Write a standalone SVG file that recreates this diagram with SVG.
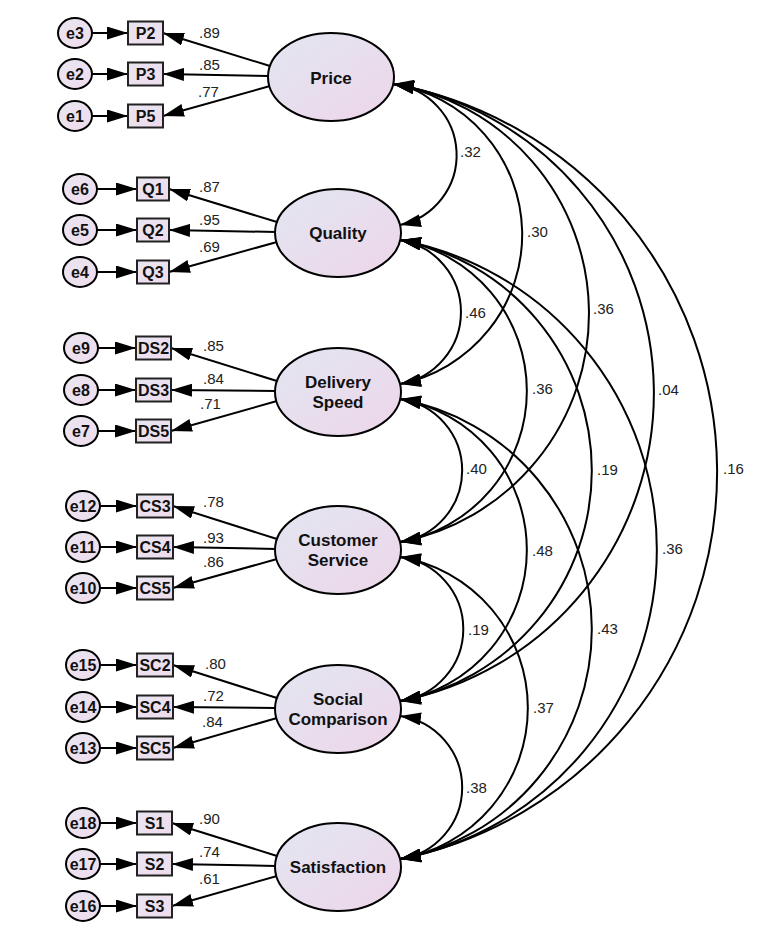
<svg xmlns="http://www.w3.org/2000/svg" width="769" height="947" viewBox="0 0 769 947">
<defs>
<linearGradient id="gl" x1="0" y1="0" x2="1" y2="1"><stop offset="0" stop-color="#e3e6f2"/><stop offset="1" stop-color="#edd6e9"/></linearGradient>
<linearGradient id="gb" x1="0" y1="0" x2="1" y2="1"><stop offset="0" stop-color="#e9e5f1"/><stop offset="1" stop-color="#efdcec"/></linearGradient>
<marker id="ah" markerUnits="userSpaceOnUse" markerWidth="21" markerHeight="13" viewBox="0 0 21 13" refX="21" refY="6.5" orient="auto-start-reverse"><path d="M0,0 L21,6.5 L0,13 Z" fill="#000"/></marker>
</defs>
<style>
.lat{fill:url(#gl);stroke:#000;stroke-width:2}
.err{fill:url(#gb);stroke:#000;stroke-width:2}
.obs{fill:url(#gb);stroke:#222;stroke-width:2}
.ln{fill:none;stroke:#000;stroke-width:2;marker-end:url(#ah)}
.cov{fill:none;stroke:#000;stroke-width:2;marker-start:url(#ah);marker-end:url(#ah)}
.lt{font-family:"Liberation Sans",Arial,sans-serif;font-weight:bold;font-size:17px;fill:#111;text-anchor:middle}
.bt{font-family:"Liberation Sans",Arial,sans-serif;font-weight:bold;font-size:16px;fill:#111;text-anchor:middle}
.et{font-family:"Liberation Sans",Arial,sans-serif;font-weight:bold;font-size:16px;fill:#111;text-anchor:middle}
.nt{font-family:"Liberation Sans",Arial,sans-serif;font-size:15px;fill:#222}
</style>
<rect width="769" height="947" fill="#fff"/>

<g id="connectors">
<path class="ln" d="M92,33 H128"/><path class="ln" d="M92,74 H128"/><path class="ln" d="M92,116 H128"/>
<path class="ln" d="M97,189 H137"/><path class="ln" d="M97,230 H137"/><path class="ln" d="M97,272 H137"/>
<path class="ln" d="M98,348 H136"/><path class="ln" d="M98,390 H136"/><path class="ln" d="M98,431 H136"/>
<path class="ln" d="M100,506 H137"/><path class="ln" d="M100,547 H137"/><path class="ln" d="M100,588 H137"/>
<path class="ln" d="M100,665 H137"/><path class="ln" d="M100,707 H137"/><path class="ln" d="M100,748 H137"/>
<path class="ln" d="M100,823 H137"/><path class="ln" d="M100,864 H137"/><path class="ln" d="M100,906 H137"/>
<path class="ln" d="M270,66 L163,33"/><path class="ln" d="M269,76 L163,74"/><path class="ln" d="M270,86 L163,116"/>
<path class="ln" d="M277,222 L169,189"/><path class="ln" d="M276,232 L169,230"/><path class="ln" d="M277,242 L169,272"/>
<path class="ln" d="M277,381 L171,348"/><path class="ln" d="M276,391 L171,390"/><path class="ln" d="M277,401 L171,431"/>
<path class="ln" d="M277,539 L173,506"/><path class="ln" d="M276,549 L173,547"/><path class="ln" d="M277,559 L173,588"/>
<path class="ln" d="M277,698 L173,665"/><path class="ln" d="M276,708 L173,707"/><path class="ln" d="M277,718 L173,748"/>
<path class="ln" d="M277,856 L172,823"/><path class="ln" d="M276,866 L172,864"/><path class="ln" d="M277,876 L172,906"/>
<text class="nt" x="199" y="38">.89</text><text class="nt" x="199" y="70">.85</text><text class="nt" x="198" y="97">.77</text>
<text class="nt" x="199" y="192">.87</text><text class="nt" x="199" y="225">.95</text><text class="nt" x="199" y="252">.69</text>
<text class="nt" x="203" y="351">.85</text><text class="nt" x="203" y="384">.84</text><text class="nt" x="200" y="409">.71</text>
<text class="nt" x="203" y="507">.78</text><text class="nt" x="203" y="543">.93</text><text class="nt" x="203" y="567">.86</text>
<text class="nt" x="205" y="669">.80</text><text class="nt" x="203" y="701">.72</text><text class="nt" x="202" y="727">.84</text>
<text class="nt" x="199" y="824">.90</text><text class="nt" x="199" y="857">.74</text><text class="nt" x="199" y="884">.61</text>
<path class="cov" d="M393,84 A71.5,71.5 0 0 1 400,225"/>
<path class="cov" d="M393,84 A152.4,152.4 0 0 1 400,384"/>
<path class="cov" d="M393,84 A232.5,232.5 0 0 1 400,542"/>
<path class="cov" d="M393,84 A313.6,313.6 0 0 1 400,701"/>
<path class="cov" d="M393,84 A394.5,394.5 0 0 1 400,859"/>
<path class="cov" d="M400,240 A73,73 0 0 1 400,384"/>
<path class="cov" d="M400,240 A153.3,153.3 0 0 1 400,542"/>
<path class="cov" d="M400,240 A234.4,234.4 0 0 1 400,701"/>
<path class="cov" d="M400,240 A314.9,314.9 0 0 1 400,859"/>
<path class="cov" d="M400,399 A72.2,72.2 0 0 1 400,542"/>
<path class="cov" d="M400,399 A153.3,153.3 0 0 1 400,701"/>
<path class="cov" d="M400,399 A233.8,233.8 0 0 1 400,859"/>
<path class="cov" d="M400,557 A72.6,72.6 0 0 1 400,701"/>
<path class="cov" d="M400,557 A153.1,153.1 0 0 1 400,859"/>
<path class="cov" d="M400,716 A72.2,72.2 0 0 1 400,859"/>
<text class="nt" x="460" y="157">.32</text>
<text class="nt" x="527" y="237">.30</text>
<text class="nt" x="593" y="314">.36</text>
<text class="nt" x="658" y="395">.04</text>
<text class="nt" x="723" y="474">.16</text>
<text class="nt" x="465" y="318">.46</text>
<text class="nt" x="532" y="394">.36</text>
<text class="nt" x="597" y="475">.19</text>
<text class="nt" x="662" y="554">.36</text>
<text class="nt" x="466" y="474">.40</text>
<text class="nt" x="532" y="556">.48</text>
<text class="nt" x="597" y="634">.43</text>
<text class="nt" x="468" y="635">.19</text>
<text class="nt" x="533" y="713">.37</text>
<text class="nt" x="466" y="793">.38</text>
</g>

<g id="price"><ellipse class="lat" cx="331" cy="77" rx="63" ry="44"/><text class="lt" x="331" y="84">Price</text></g>
<g id="quality"><ellipse class="lat" cx="338" cy="233" rx="63" ry="44"/><text class="lt" x="338" y="239">Quality</text></g>
<g id="delivery_speed"><ellipse class="lat" cx="338" cy="392" rx="63" ry="44"/><text class="lt" x="338" y="388">Delivery</text><text class="lt" x="338" y="408">Speed</text></g>
<g id="customer_service"><ellipse class="lat" cx="338" cy="550" rx="63" ry="44"/><text class="lt" x="338" y="546">Customer</text><text class="lt" x="338" y="566">Service</text></g>
<g id="social_comparison"><ellipse class="lat" cx="338" cy="709" rx="63" ry="44"/><text class="lt" x="338" y="705">Social</text><text class="lt" x="338" y="725">Comparison</text></g>
<g id="satisfaction"><ellipse class="lat" cx="338" cy="867" rx="63" ry="44"/><text class="lt" x="338" y="873">Satisfaction</text></g>

<g id="P2"><rect class="obs" x="128" y="21.5" width="35" height="23"/><text class="bt" x="145.5" y="39">P2</text></g>
<g id="P3"><rect class="obs" x="128" y="62.5" width="35" height="23"/><text class="bt" x="145.5" y="80">P3</text></g>
<g id="P5"><rect class="obs" x="128" y="104.5" width="35" height="23"/><text class="bt" x="145.5" y="122">P5</text></g>
<g id="Q1"><rect class="obs" x="137" y="177.5" width="32" height="23"/><text class="bt" x="153" y="195">Q1</text></g>
<g id="Q2"><rect class="obs" x="137" y="218.5" width="32" height="23"/><text class="bt" x="153" y="236">Q2</text></g>
<g id="Q3"><rect class="obs" x="137" y="260.5" width="32" height="23"/><text class="bt" x="153" y="278">Q3</text></g>
<g id="DS2"><rect class="obs" x="136" y="336.5" width="35" height="23"/><text class="bt" x="153.5" y="354">DS2</text></g>
<g id="DS3"><rect class="obs" x="136" y="378.5" width="35" height="23"/><text class="bt" x="153.5" y="396">DS3</text></g>
<g id="DS5"><rect class="obs" x="136" y="419.5" width="35" height="23"/><text class="bt" x="153.5" y="437">DS5</text></g>
<g id="CS3"><rect class="obs" x="137" y="494.5" width="36" height="23"/><text class="bt" x="155" y="512">CS3</text></g>
<g id="CS4"><rect class="obs" x="137" y="535.5" width="36" height="23"/><text class="bt" x="155" y="553">CS4</text></g>
<g id="CS5"><rect class="obs" x="137" y="576.5" width="36" height="23"/><text class="bt" x="155" y="594">CS5</text></g>
<g id="SC2"><rect class="obs" x="137" y="653.5" width="36" height="23"/><text class="bt" x="155" y="671">SC2</text></g>
<g id="SC4"><rect class="obs" x="137" y="695.5" width="36" height="23"/><text class="bt" x="155" y="713">SC4</text></g>
<g id="SC5"><rect class="obs" x="137" y="736.5" width="36" height="23"/><text class="bt" x="155" y="754">SC5</text></g>
<g id="S1"><rect class="obs" x="137" y="811.5" width="35" height="23"/><text class="bt" x="154.5" y="829">S1</text></g>
<g id="S2"><rect class="obs" x="137" y="852.5" width="35" height="23"/><text class="bt" x="154.5" y="870">S2</text></g>
<g id="S3"><rect class="obs" x="137" y="894.5" width="35" height="23"/><text class="bt" x="154.5" y="912">S3</text></g>

<g id="e3"><ellipse class="err" cx="75" cy="33" rx="17" ry="15"/><text class="et" x="75" y="39">e3</text></g>
<g id="e2"><ellipse class="err" cx="75" cy="74" rx="17" ry="15"/><text class="et" x="75" y="80">e2</text></g>
<g id="e1"><ellipse class="err" cx="75" cy="116" rx="17" ry="15"/><text class="et" x="75" y="122">e1</text></g>
<g id="e6"><ellipse class="err" cx="80" cy="189" rx="17" ry="15"/><text class="et" x="80" y="195">e6</text></g>
<g id="e5"><ellipse class="err" cx="80" cy="230" rx="17" ry="15"/><text class="et" x="80" y="236">e5</text></g>
<g id="e4"><ellipse class="err" cx="80" cy="272" rx="17" ry="15"/><text class="et" x="80" y="278">e4</text></g>
<g id="e9"><ellipse class="err" cx="81" cy="348" rx="17" ry="15"/><text class="et" x="81" y="354">e9</text></g>
<g id="e8"><ellipse class="err" cx="81" cy="390" rx="17" ry="15"/><text class="et" x="81" y="396">e8</text></g>
<g id="e7"><ellipse class="err" cx="81" cy="431" rx="17" ry="15"/><text class="et" x="81" y="437">e7</text></g>
<g id="e12"><ellipse class="err" cx="83" cy="506" rx="17" ry="15"/><text class="et" x="83" y="512">e12</text></g>
<g id="e11"><ellipse class="err" cx="83" cy="547" rx="17" ry="15"/><text class="et" x="83" y="553">e11</text></g>
<g id="e10"><ellipse class="err" cx="83" cy="588" rx="17" ry="15"/><text class="et" x="83" y="594">e10</text></g>
<g id="e15"><ellipse class="err" cx="83" cy="665" rx="17" ry="15"/><text class="et" x="83" y="671">e15</text></g>
<g id="e14"><ellipse class="err" cx="83" cy="707" rx="17" ry="15"/><text class="et" x="83" y="713">e14</text></g>
<g id="e13"><ellipse class="err" cx="83" cy="748" rx="17" ry="15"/><text class="et" x="83" y="754">e13</text></g>
<g id="e18"><ellipse class="err" cx="83" cy="823" rx="17" ry="15"/><text class="et" x="83" y="829">e18</text></g>
<g id="e17"><ellipse class="err" cx="83" cy="864" rx="17" ry="15"/><text class="et" x="83" y="870">e17</text></g>
<g id="e16"><ellipse class="err" cx="83" cy="906" rx="17" ry="15"/><text class="et" x="83" y="912">e16</text></g>
</svg>
